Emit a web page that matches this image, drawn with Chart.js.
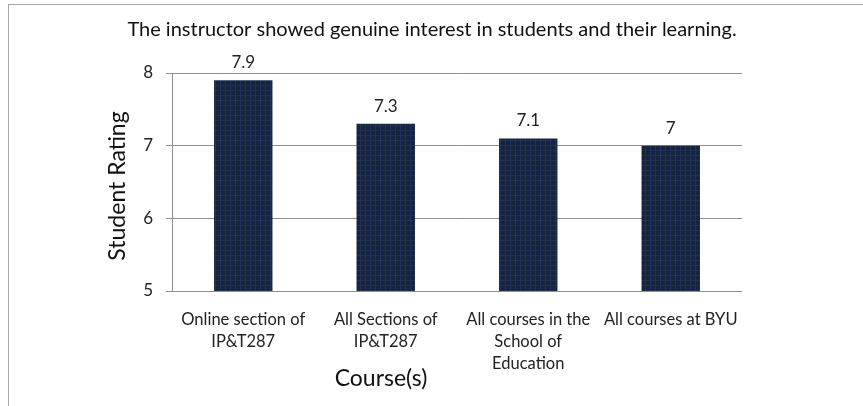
<!DOCTYPE html>
<html>
<head>
<meta charset="utf-8">
<script src="https://cdn.jsdelivr.net/npm/chart.js@4.4.0/dist/chart.umd.min.js"></script>
<style>
  html, body { margin: 0; padding: 0; background: #fff; }
  #wrap { position: relative; width: 863px; height: 406px; }
  #frame { position: absolute; left: 8px; top: 4px; right: 0; bottom: 0;
           border-left: 1px solid #a8a8a8; border-top: 1px solid #a8a8a8; }
  canvas { position: absolute; left: 0; top: 0; }
</style>
</head>
<body>
<div id="wrap">
  <div id="frame"></div>
  <canvas id="chart" width="863" height="406"></canvas>
</div>
<script>
const chartTitle = "The instructor showed genuine interest in students and their learning.";
const xTitle = "Course(s)";
const yTitle = "Student Rating";
const courses = [
  ["Online section of", "IP&T287"],
  ["All Sections of", "IP&T287"],
  ["All courses in the", "School of", "Education"],
  ["All courses at BYU"]
];
const ratings = [7.9, 7.3, 7.1, 7];
const ratingTicks = [5, 6, 7, 8];

const FONT = "Lato, 'Open Sans', sans-serif";

// small navy weave used as the bar fill
function weave() {
  const c = document.createElement("canvas");
  c.width = 5; c.height = 5;
  const g = c.getContext("2d");
  g.fillStyle = "#17223f";
  g.fillRect(0, 0, 5, 5);
  g.fillStyle = "#22306a";
  g.fillRect(0, 0, 1, 5);
  g.fillStyle = "#1c3646";
  g.fillRect(0, 0, 5, 1);
  return g.createPattern(c, "repeat");
}

// heading and axis titles, placed by hand since they don't sit centred
const titles = {
  id: "titles",
  afterDraw(chart) {
    const ctx = chart.ctx;
    ctx.save();
    ctx.fillStyle = "#111";
    ctx.textAlign = "center";
    ctx.textBaseline = "middle";
    ctx.font = "20px " + FONT;
    ctx.fillText(chartTitle, 432, 30);
    ctx.font = "23px " + FONT;
    ctx.fillText(xTitle, 381, 379);
    ctx.translate(118, 186);
    ctx.rotate(-Math.PI / 2);
    ctx.fillText(yTitle, 0, 0);
    ctx.restore();
  }
};

// value printed above each bar
const valueLabels = {
  id: "valueLabels",
  afterDatasetsDraw(chart) {
    const ctx = chart.ctx;
    const meta = chart.getDatasetMeta(0);
    ctx.save();
    ctx.font = "17px " + FONT;
    ctx.fillStyle = "#222";
    ctx.textAlign = "center";
    ctx.textBaseline = "alphabetic";
    meta.data.forEach((bar, i) => {
      ctx.fillText(String(ratings[i]), bar.x, bar.y - 12);
    });
    ctx.restore();
  }
};

new Chart(document.getElementById("chart"), {
  type: "bar",
  data: {
    labels: courses,
    datasets: [{
      data: ratings,
      backgroundColor: weave(),
      borderWidth: 0,
      categoryPercentage: 1,
      barPercentage: 0.41
    }]
  },
  options: {
    responsive: false,
    animation: false,
    layout: { padding: { left: 96, right: 121, top: 73, bottom: 0 } },
    plugins: {
      legend: { display: false },
      tooltip: { enabled: false },
      title: { display: false }
    },
    scales: {
      x: {
        grid: { display: false, drawTicks: false },
        border: { display: false },
        ticks: {
          color: "#222",
          padding: 18,
          maxRotation: 0,
          autoSkip: false,
          font: { family: FONT, size: 16.5, lineHeight: "22px" }
        },
        afterFit(scale) { scale.height = 115; }
      },
      y: {
        min: 5,
        max: 8,
        afterBuildTicks(scale) { scale.ticks = ratingTicks.map(v => ({ value: v })); },
        grid: { color: "#8f8f8f", tickLength: 6, lineWidth: 1 },
        border: { display: true, color: "#8f8f8f" },
        ticks: {
          color: "#222",
          padding: 13,
          font: { family: FONT, size: 17 }
        },
        afterFit(scale) { scale.width = 76; }
      }
    }
  },
  plugins: [valueLabels, titles]
});
</script>
</body>
</html>
